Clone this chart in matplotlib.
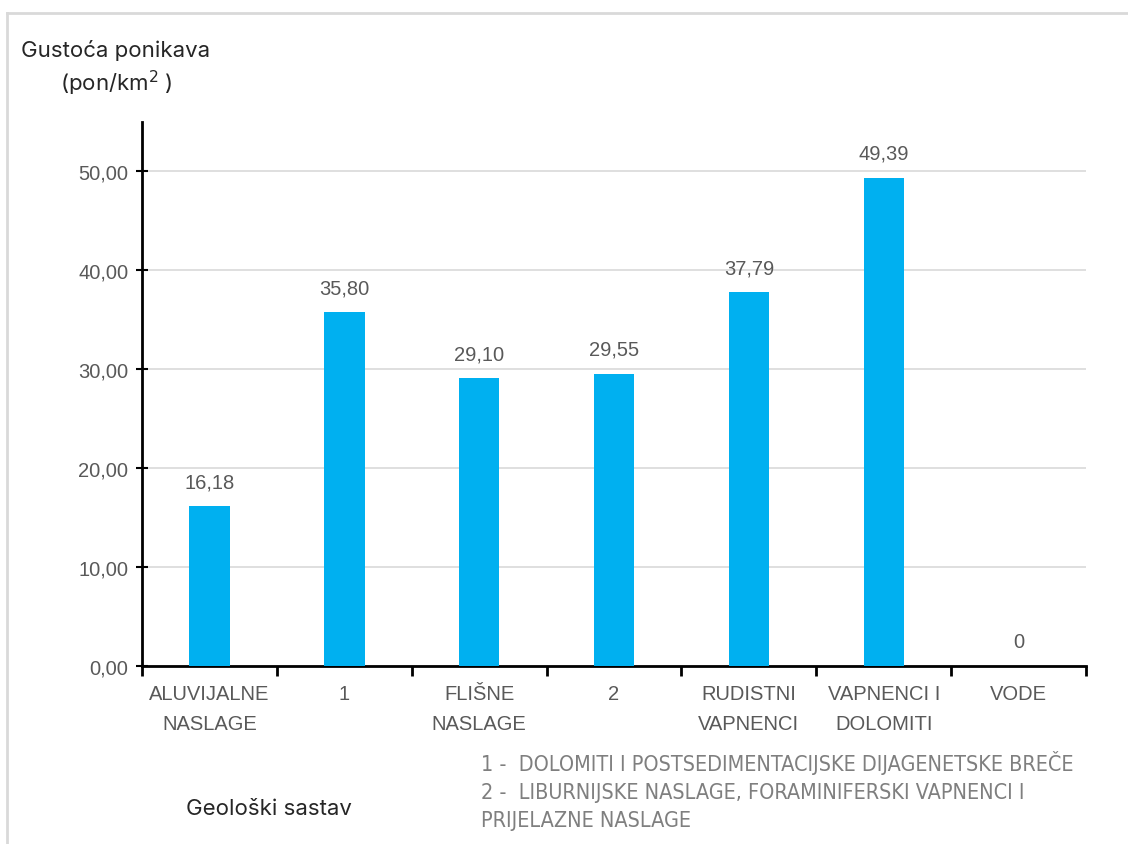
import matplotlib
matplotlib.use("Agg")
import matplotlib.pyplot as plt
from matplotlib.lines import Line2D

# Podaci
kategorije = ["ALUVIJALNE\nNASLAGE", "1", "FLIŠNE\nNASLAGE", "2",
              "RUDISTNI\nVAPNENCI", "VAPNENCI I\nDOLOMITI", "VODE"]
gustoca = [16.18, 35.80, 29.10, 29.55, 37.79, 49.39, 0]
oznake = ["16,18", "35,80", "29,10", "29,55", "37,79", "49,39", "0"]
y_ticks = [0, 10, 20, 30, 40, 50]
y_tick_labels = ["0,00", "10,00", "20,00", "30,00", "40,00", "50,00"]
napomena = ["1 -  DOLOMITI I POSTSEDIMENTACIJSKE DIJAGENETSKE BREČE",
            "2 -  LIBURNIJSKE NASLAGE, FORAMINIFERSKI VAPNENCI I",
            "PRIJELAZNE NASLAGE"]

plt.rcParams["font.family"] = ["Liberation Sans", "DejaVu Sans"]
siva = "#595959"

fig = plt.figure(figsize=(11.28, 8.45), dpi=100)
ax = fig.add_axes([0.1259, 0.2107, 0.8369, 0.6437])

x = list(range(len(kategorije)))
ax.bar(x, gustoca, width=0.30, color="#00B0F0", zorder=3)

for xi, v, t in zip(x, gustoca, oznake):
    ax.text(xi, v + 1.5, t, ha="center", va="bottom", fontsize=14.5, color=siva)

ax.set_xlim(-0.5, len(kategorije) - 0.5)
ax.set_ylim(0, 55)
ax.set_yticks(y_ticks)
ax.set_yticklabels(y_tick_labels, fontsize=14.5, color=siva)
ax.yaxis.grid(True, color="#D9D9D9", linewidth=1.2, zorder=0)

ax.set_xticks(x)
ax.set_xticklabels(kategorije, fontsize=14.5, color=siva, linespacing=1.75)
ax.tick_params(axis="x", length=0, pad=13)
ax.set_xticks([i + 0.5 for i in range(-1, len(kategorije))], minor=True)
ax.tick_params(axis="x", which="minor", length=7, width=2, direction="out", color="black")
ax.tick_params(axis="y", length=8, width=1.5, direction="inout", color="black", pad=6)

for s in ["top", "right"]:
    ax.spines[s].set_visible(False)
ax.spines["left"].set_linewidth(2)
ax.spines["bottom"].set_linewidth(2)

naslov_font = ["Inter", "DejaVu Sans"]
fig.text(0.0186, 0.932, "Gustoća ponikava", fontsize=16, color="#262626", ha="left",
         family=naslov_font)
fig.text(0.0532, 0.892, "(pon/km$^2$ )", fontsize=16, color="#262626", ha="left",
         family=naslov_font)
fig.text(0.238, 0.036, "Geološki sastav", fontsize=16, color="#262626", ha="center",
         family=naslov_font)

for i, red in enumerate(napomena):
    fig.text(0.426, 0.088 - i * 0.0335, red, fontsize=15.5, color="#7f7f7f",
             family=["Liberation Sans Narrow", "DejaVu Sans"], stretch="condensed")

# okvir
fig.add_artist(Line2D([7 / 1128, 1], [1 - 14 / 845, 1 - 14 / 845], color="#D9D9D9", lw=2))
fig.add_artist(Line2D([7 / 1128, 7 / 1128], [0, 1 - 14 / 845], color="#D9D9D9", lw=2))

fig.savefig("out.png", dpi=100)
